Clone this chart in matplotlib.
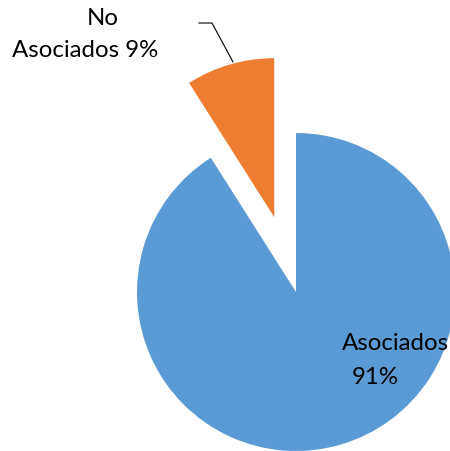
import matplotlib
matplotlib.use("Agg")
import matplotlib.pyplot as plt

labels = ['Asociados', 'No Asociados']
values = [91, 9]
colors = ['#5B9BD5', '#ED7D31']

# pixel geometry of the reference (450x452), pie centre and radius
W, H = 450, 452
cx, cy, R = 296, 293, 159

def px(x, y):
    # pixel -> data units (radius = 1)
    return (x - cx) / R, (cy - y) / R

fig = plt.figure(figsize=(4.5, 4.52), dpi=100)
ax = fig.add_axes([0, 0, 1, 1])
ax.pie(values, colors=colors, startangle=90, counterclock=False,
       explode=[0, 0.49], radius=1, wedgeprops=dict(linewidth=0))
x0, y0 = px(0, H)
x1, y1 = px(W, 0)
ax.set_xlim(x0, x1)
ax.set_ylim(y0, y1)
ax.set_aspect('equal')
ax.axis('off')

font = dict(family='Lato', fontsize=17.3, color='black', ha='center', va='baseline')

# outside label for the exploded slice
ax.text(*px(103, 25), 'No', **font)
ax.text(*px(85.5, 57), 'Asociados %d%%' % values[1], **font)
lx, ly = zip(px(199, 24), px(212, 24), px(233, 63))
ax.plot(lx, ly, color='black', linewidth=0.8)

# inside label for the big slice
ax.text(*px(395, 350), labels[0], **font)
ax.text(*px(375, 384), '%d%%' % values[0], **font)

plt.savefig('out.png', dpi=100)
